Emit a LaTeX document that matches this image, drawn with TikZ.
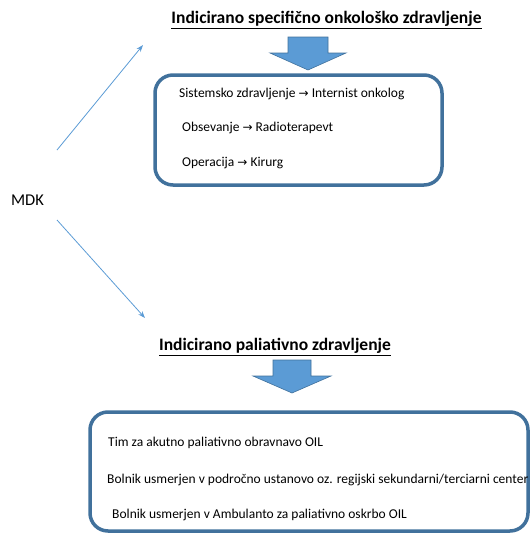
\documentclass[tikz,border=0pt]{standalone}
\usepackage{fontspec}
\setmainfont{Carlito}
\newfontfamily\arrowfont{DejaVu Sans}
\newcommand{\rarr}{{\arrowfont\fontsize{12}{14}\selectfont →}}
\usetikzlibrary{arrows.meta}
\definecolor{boxblue}{HTML}{41719C}
\definecolor{fillblue}{HTML}{5B9BD5}
\tikzset{
  panel/.style={draw=boxblue, line width=3.5pt, rounded corners=18pt, inner sep=0pt},
  itemtext/.style={anchor=west, font=\fontsize{13.5}{16}\selectfont, inner sep=0pt},
  titletext/.style={font=\bfseries\fontsize{17.5}{20}\selectfont, inner sep=0pt},
  blockarrow/.style={fill=fillblue, draw=boxblue, line width=0.6pt},
  link/.style={draw=fillblue, line width=0.8pt, -{Stealth[length=7pt,width=5pt]}},
}
\begin{document}
\begin{tikzpicture}[x=1pt,y=-1pt]
\useasboundingbox (0,0) rectangle (530,533);
% MDK
\node[font=\fontsize{16.5}{18}\selectfont, inner sep=0pt] (mdk) at (27.5,200) {MDK};
\coordinate (u0) at (57,150);
\coordinate (u1) at (143,45);
\coordinate (d0) at (57,220);
\coordinate (d1) at (145,318);
\draw[link] (u0) -- (u1);
\draw[link] (d0) -- (d1);
% top branch
\node[titletext] (t1) at (326.5,20) {\underline{Indicirano specifično onkološko zdravljenje}};
\draw[blockarrow] (288,37) -- (328,37) -- (328,53) -- (346,53) -- (308,70) -- (270,53) -- (288,53) -- cycle;
\node[panel, minimum width=287pt, minimum height=110pt] (b1) at (298.5,130) {};
\node[itemtext] (s1) at (179,94) {Sistemsko zdravljenje \rarr\ Internist onkolog};
\node[itemtext] (s2) at (182,128) {Obsevanje \rarr\ Radioterapevt};
\node[itemtext] (s3) at (182,163) {Operacija \rarr\ Kirurg};
% bottom branch
\node[titletext] (t2) at (275,347) {\underline{Indicirano paliativno zdravljenje}};
\draw[blockarrow] (273,360) -- (311,360) -- (311,376) -- (331,376) -- (292,393) -- (253,376) -- (273,376) -- cycle;
\node[panel, minimum width=438pt, minimum height=119pt] (b2) at (309,471.5) {};
\node[itemtext] (p1) at (108,443) {Tim za akutno paliativno obravnavo OIL};
\node[itemtext] (p2) at (107,480) {Bolnik usmerjen v področno ustanovo oz. regijski sekundarni/terciarni center};
\node[itemtext] (p3) at (112,515) {Bolnik usmerjen v Ambulanto za paliativno oskrbo OIL};
\end{tikzpicture}
\end{document}
